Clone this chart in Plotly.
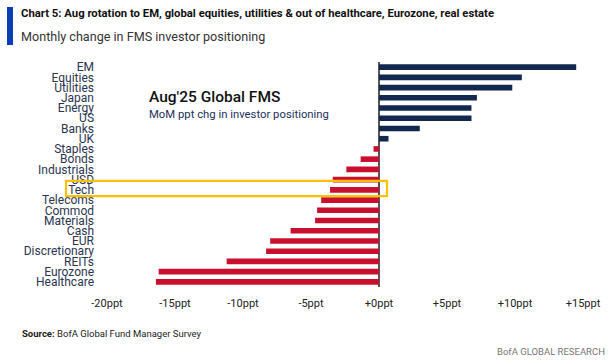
import plotly.graph_objects as go

categories = ["EM", "Equities", "Utilities", "Japan", "Energy", "US", "Banks", "UK",
              "Staples", "Bonds", "Industrials", "USD", "Tech", "Telecoms", "Commod",
              "Materials", "Cash", "EUR", "Discretionary", "REITs", "Eurozone", "Healthcare"]
values = [14.5, 10.5, 9.8, 7.2, 6.8, 6.8, 3.0, 0.7,
          -0.4, -1.35, -2.4, -3.4, -3.6, -4.25, -4.55,
          -4.7, -6.5, -8.0, -8.3, -11.2, -16.2, -16.4]
tick_vals = [-20, -15, -10, -5, 0, 5, 10, 15]
tick_text = ["-20ppt", "-15ppt", "-10ppt", "-5ppt", "+0ppt", "+5ppt", "+10ppt", "+15ppt"]
highlight = "Tech"

NAVY = "#12284f"
RED = "#c8102e"
FONT = "Roboto, Lato, sans-serif"

W, H = 612, 364
L, R, T, B = 98, 12, 62, 77
PW, PH = W - L - R, H - T - B


def px(x):
    return (x - L) / PW


def py(y):
    return (H - B - y) / PH


colors = [NAVY if v >= 0 else RED for v in values]

fig = go.Figure()
fig.add_trace(go.Bar(
    x=values, y=categories, orientation="h",
    marker=dict(color=colors, line=dict(width=0)),
    width=0.55, hoverinfo="x+y",
))

ti = categories.index(highlight)
shapes = [
    dict(type="rect", xref="paper", yref="y", x0=px(66), x1=px(387),
         y0=ti - 0.88, y1=ti + 0.62, line=dict(color="#ffc000", width=2.2),
         fillcolor="rgba(0,0,0,0)", layer="above"),
    dict(type="rect", xref="paper", yref="paper", x0=px(7), x1=px(13),
         y0=py(45), y1=py(7), line=dict(width=0), fillcolor="#0a3cb4"),
]

annotations = [
    dict(text="<b>Chart 5: Aug rotation to EM, global equities, utilities &amp; out of healthcare, Eurozone, real estate</b>",
         x=px(19), y=py(14), xref="paper", yref="paper", xanchor="left", yanchor="middle",
         showarrow=False, font=dict(family=FONT, size=11.3, color="#111111")),
    dict(text="Monthly change in FMS investor positioning",
         x=px(19), y=py(37), xref="paper", yref="paper", xanchor="left", yanchor="middle",
         showarrow=False, font=dict(family=FONT, size=12.6, color="#333333")),
    dict(text="Aug'25 Global FMS",
         x=px(147), y=py(97), xref="paper", yref="paper", xanchor="left", yanchor="middle",
         showarrow=False, font=dict(family=FONT, size=15.5, color="#111111", weight=500)),
    dict(text="MoM ppt chg in investor positioning",
         x=px(147), y=py(114), xref="paper", yref="paper", xanchor="left", yanchor="middle",
         showarrow=False, font=dict(family=FONT, size=11.3, color="#1c2f5c")),
    dict(text="<b>Source:</b> BofA Global Fund Manager Survey",
         x=px(20), y=py(333), xref="paper", yref="paper", xanchor="left", yanchor="middle",
         showarrow=False, font=dict(family=FONT, size=9.5, color="#222222")),
    dict(text="BofA GLOBAL RESEARCH",
         x=px(607), y=py(352), xref="paper", yref="paper", xanchor="right", yanchor="middle",
         showarrow=False, font=dict(family=FONT, size=9.5, color="#777777")),
]

fig.update_layout(
    width=W, height=H,
    margin=dict(l=L, r=R, t=T, b=B, pad=0),
    paper_bgcolor="white", plot_bgcolor="white",
    showlegend=False,
    bargap=0.45,
    shapes=shapes,
    annotations=annotations,
    xaxis=dict(range=[-20.66, 16.25], tickvals=tick_vals, ticktext=tick_text,
               showgrid=False, zeroline=True, zerolinecolor="#555555", zerolinewidth=2,
               showline=False, ticks="outside", ticklen=6, tickcolor="white",
               tickfont=dict(family=FONT, size=11, color="#222222"), fixedrange=True),
    yaxis=dict(categoryorder="array", categoryarray=categories, range=[21.5, -0.5],
               tickmode="array", tickvals=categories, ticktext=categories,
               showgrid=False, zeroline=False, showline=False, ticks="",
               ticklabelstandoff=3,
               tickfont=dict(family=FONT, size=12, color="#2a3550"), fixedrange=True),
)

fig.write_html("out.html", config={"displayModeBar": False},
               post_script="document.body.style.margin='0';")
